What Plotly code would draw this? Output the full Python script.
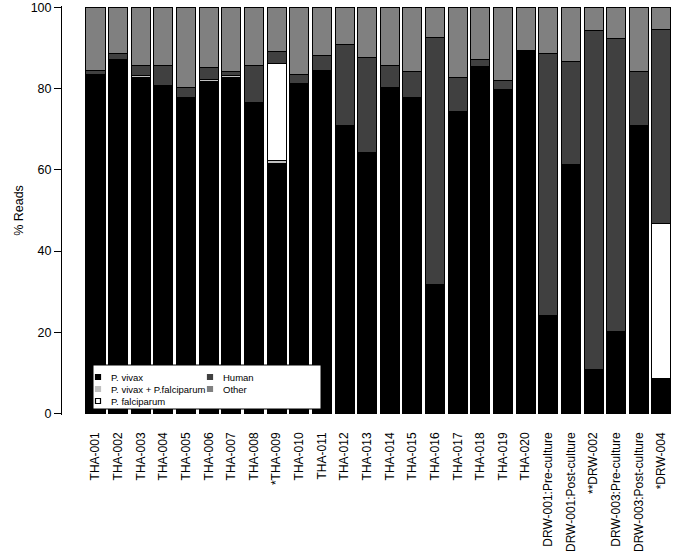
import plotly.graph_objects as go

# samples along the x axis
samples = [
    "THA-001", "THA-002", "THA-003", "THA-004", "THA-005", "THA-006",
    "THA-007", "THA-008", "*THA-009", "THA-010", "THA-011", "THA-012",
    "THA-013", "THA-014", "THA-015", "THA-016", "THA-017", "THA-018",
    "THA-019", "THA-020", "DRW-001:Pre-culture", "DRW-001:Post-culture",
    "**DRW-002", "DRW-003:Pre-culture", "DRW-003:Post-culture", "*DRW-004",
]

# % reads per category (stacked bottom -> top)
vivax = [83.2, 87.2, 82.9, 80.8, 77.9, 81.8, 82.8, 76.6, 61.6, 81.1, 84.4, 70.9, 64.4,
         80.2, 77.9, 31.8, 74.4, 85.5, 79.8, 89.5, 24.1, 61.0, 10.9, 20.3, 70.9, 8.7]
vivax_falciparum = [0.4, 0, 0.3, 0, 0, 0.4, 0.4, 0, 0.8, 0.3, 0, 0, 0,
                    0, 0, 0, 0, 0, 0, 0, 0, 0.4, 0, 0, 0, 0]
falciparum = [0, 0, 0, 0, 0, 0, 0, 0, 23.9, 0, 0, 0, 0,
              0, 0, 0, 0, 0, 0, 0, 0, 0, 0, 0, 0, 38.0]
human = [0.9, 1.6, 2.6, 5.0, 2.3, 3.0, 1.0, 9.1, 2.9, 2.1, 3.7, 20.1, 23.3,
         5.6, 6.3, 60.8, 8.3, 1.8, 2.2, 0, 64.7, 25.4, 83.4, 72.0, 13.3, 47.9]
other = [15.5, 11.2, 14.2, 14.2, 19.8, 14.8, 15.8, 14.3, 10.8, 16.5, 11.9, 9.0, 12.3,
         14.2, 15.8, 7.4, 17.3, 12.7, 18.0, 10.5, 11.2, 13.2, 5.7, 7.7, 15.8, 5.4]

series = [
    ("P. vivax", vivax, "#000000"),
    ("P. vivax + P.falciparum", vivax_falciparum, "#c0c0c0"),
    ("P. falciparum", falciparum, "#ffffff"),
    ("Human", human, "#404040"),
    ("Other", other, "#808080"),
]

FONT = "Liberation Sans, Arial, sans-serif"
W, H = 675, 555
ML, MR, MT, MB = 62, 0, 6, 140

fig = go.Figure()
for name, vals, col in series:
    fig.add_trace(go.Bar(
        x=samples, y=vals, name=name, showlegend=False,
        marker=dict(color=col, line=dict(color="black", width=1)),
    ))

fig.update_layout(
    barmode="stack", bargap=0.16,
    width=W, height=H,
    margin=dict(l=ML, r=MR, t=MT, b=MB),
    plot_bgcolor="white", paper_bgcolor="white",
    font=dict(family=FONT, size=12, color="black"),
)
fig.update_xaxes(
    range=[-1.48, 25.6], showgrid=False, showline=False, zeroline=False,
    tickangle=-90, ticks="", ticklabelstandoff=14, automargin=False,
    tickfont=dict(size=12),
)
fig.update_yaxes(
    range=[-0.4, 100.4], tickvals=[0, 20, 40, 60, 80, 100], automargin=False,
    showgrid=False, zeroline=False, showline=True, linecolor="black", linewidth=1,
    ticks="outside", ticklen=7, tickcolor="black",
    tickfont=dict(size=12.5),
    title=dict(text="% Reads", font=dict(size=12.5), standoff=4),
)


# legend drawn by hand (R-style compact box)
def px(x, y):
    pw = W - ML - MR
    ph = H - MT - MB
    return (x - ML) / pw, (H - MB - y) / ph


x0, y0 = px(93, 365)
x1, y1 = px(321, 409)
fig.add_shape(type="rect", xref="paper", yref="paper", x0=x0, y0=y1, x1=x1, y1=y0,
              fillcolor="white", line=dict(color="black", width=1), layer="above")

slots = [(98, 377), (98, 389), (98, 401), (210, 377), (210, 389)]
for (name, vals, col), (sx, sy) in zip(series, slots):
    a0, b0 = px(sx - 2.5, sy - 2.5)
    a1, b1 = px(sx + 2.5, sy + 2.5)
    border = "black" if col == "#ffffff" else col
    fig.add_shape(type="rect", xref="paper", yref="paper", x0=a0, y0=b1, x1=a1, y1=b0,
                  fillcolor=col, line=dict(color=border, width=1.2), layer="above")
    tx, ty = px(sx + 11, sy)
    fig.add_annotation(xref="paper", yref="paper", x=tx, y=ty, text=name,
                       showarrow=False, xanchor="left", yanchor="middle",
                       font=dict(size=9.5, color="black"))

# page body has a default 8px margin; drop it so the figure fills the window
fig.write_html("out.html", config={"displayModeBar": False},
               post_script="document.body.style.margin='0';")
